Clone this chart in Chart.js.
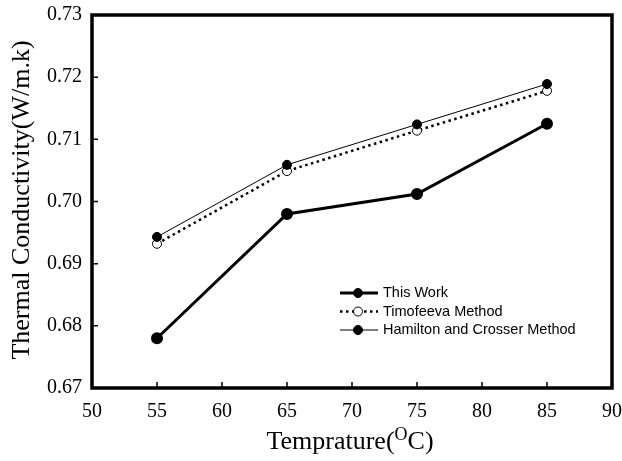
<!DOCTYPE html>
<html>
<head>
<meta charset="utf-8">
<script src="https://cdn.jsdelivr.net/npm/chart.js@4"></script>
<style>
body{margin:0;background:#fff;}
#wrap{width:622px;height:461px;}
</style>
</head>
<body>
<div id="wrap"><canvas id="chart" width="622" height="461"></canvas></div>
<script>
let temps = [55, 65, 75, 85];
let thisWork = [0.6780, 0.6980, 0.7012, 0.7125];
let timofeeva = [0.6932, 0.7049, 0.7114, 0.7178];
let hamilton = [0.6943, 0.7059, 0.7124, 0.7189];
let xTicks = [50, 55, 60, 65, 70, 75, 80, 85, 90];
let yTicks = [0.67, 0.68, 0.69, 0.70, 0.71, 0.72, 0.73];

function pts(vals){
return temps.map((t,i) => ({x:t, y:vals[i]}));
}

// frame, inward ticks, axis titles and legend
const decor = {
id:"decor",
afterDraw(c){
let ctx = c.ctx;
let a = c.chartArea;
let xs = c.scales.x, ys = c.scales.y;
ctx.save();
ctx.strokeStyle = "#000";
ctx.lineWidth = 1.5;
ctx.beginPath();
xTicks.forEach(v => {
let px = xs.getPixelForValue(v);
ctx.moveTo(px, a.bottom);
ctx.lineTo(px, a.bottom - 6);
});
yTicks.forEach(v => {
let py = ys.getPixelForValue(v);
ctx.moveTo(a.left, py);
ctx.lineTo(a.left + 6, py);
});
ctx.stroke();
ctx.lineWidth = 3.5;
ctx.strokeRect(a.left, a.top, a.right - a.left, a.bottom - a.top);

// x title with superscript
ctx.fillStyle = "#000";
ctx.textBaseline = "alphabetic";
let f1 = "26px 'Liberation Serif', 'Times New Roman', serif";
let f2 = "18px 'Liberation Serif', 'Times New Roman', serif";
ctx.font = f1;
let p1 = "Temprature(", p3 = "C)";
let w1 = ctx.measureText(p1).width, w3 = ctx.measureText(p3).width;
ctx.font = f2;
let w2 = ctx.measureText("O").width;
let total = w1 + w2 + w3;
let x0 = (a.left + a.right) / 2 - total / 2 - 2;
let yb = 449;
ctx.font = f1;
ctx.textAlign = "left";
ctx.fillText(p1, x0, yb);
ctx.font = f2;
ctx.fillText("O", x0 + w1, yb - 9);
ctx.font = f1;
ctx.fillText(p3, x0 + w1 + w2, yb);

// y title
ctx.save();
ctx.translate(22, 200);
ctx.rotate(-Math.PI / 2);
ctx.textAlign = "center";
ctx.textBaseline = "middle";
ctx.font = f1;
ctx.fillText("Thermal Conductivity(W/m.k)", 0, 0);
ctx.restore();

// legend
let lx = 340, ly = 293, gap = 18.5;
c.data.datasets.forEach((ds, i) => {
let y = ly + i * gap;
ctx.strokeStyle = "#000";
ctx.lineWidth = ds.borderWidth;
ctx.setLineDash(ds.borderDash || []);
ctx.beginPath();
ctx.moveTo(lx, y);
ctx.lineTo(lx + 38, y);
ctx.stroke();
ctx.setLineDash([]);
ctx.beginPath();
ctx.arc(lx + 18, y, 4.5, 0, Math.PI * 2);
ctx.fillStyle = ds.pointBackgroundColor;
ctx.fill();
ctx.lineWidth = 1;
ctx.stroke();
ctx.fillStyle = "#000";
ctx.font = "14.5px 'Liberation Sans', Arial, sans-serif";
ctx.textAlign = "left";
ctx.textBaseline = "middle";
ctx.fillText(ds.label, lx + 43, y);
});
ctx.restore();
}
};

new Chart(document.getElementById("chart"), {
type:"line",
data:{
datasets:[
{label:"This Work", data:pts(thisWork), borderColor:"#000", borderWidth:3,
pointBackgroundColor:"#000", pointBorderColor:"#000", pointRadius:4.5, order:2},
{label:"Timofeeva Method", data:pts(timofeeva), borderColor:"#000", borderWidth:2.5,
borderDash:[2.5,3.5], pointBackgroundColor:"#fff", pointBorderColor:"#000",
pointBorderWidth:1, pointRadius:4.5, order:1},
{label:"Hamilton and Crosser Method", data:pts(hamilton), borderColor:"#000", borderWidth:1,
pointBackgroundColor:"#000", pointBorderColor:"#000", pointRadius:4.5, order:0}
]
},
plugins:[decor],
options:{
responsive:false,
animation:false,
layout:{padding:{top:15, right:10, left:0, bottom:0}},
plugins:{legend:{display:false}, tooltip:{enabled:false}},
scales:{
x:{
type:"linear", min:50, max:90,
afterBuildTicks(s){ s.ticks = xTicks.map(v => ({value:v})); },
afterFit(s){ s.height = 73; s.paddingLeft = 0; s.paddingRight = 0; },
grid:{display:false},
border:{display:false},
ticks:{color:"#000", padding:4, maxRotation:0,
font:{family:"'Liberation Serif', 'Times New Roman', serif", size:20}}
},
y:{
type:"linear", min:0.67, max:0.73,
afterBuildTicks(s){ s.ticks = yTicks.map(v => ({value:v})); },
afterFit(s){ s.width = 92; s.paddingTop = 0; s.paddingBottom = 0; },
grid:{display:false},
border:{display:false},
ticks:{color:"#000", padding:2, callback:v => v.toFixed(2),
font:{family:"'Liberation Serif', 'Times New Roman', serif", size:20}}
}
}
}
});
</script>
</body>
</html>
